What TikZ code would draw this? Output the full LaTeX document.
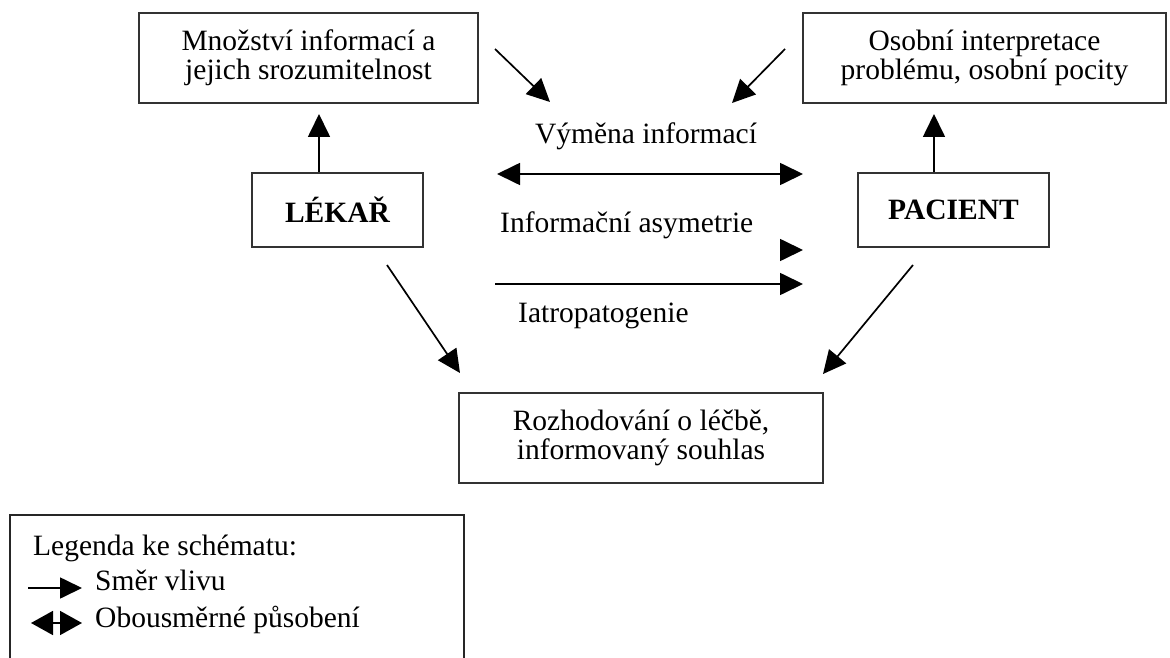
\documentclass[tikz,border=0pt]{standalone}
\usepackage{fontspec}
\setmainfont{Liberation Serif}
\usetikzlibrary{arrows.meta}
\tikzset{
  txt/.style={font=\fontsize{29.5}{28.5}\selectfont, inner sep=0pt},
  boxnode/.style={draw=black!80, line width=1.8pt, txt, align=center, inner sep=0pt},
  arr/.style={line width=1.7pt, -{Triangle[length=23pt,width=22pt]}},
  darr/.style={line width=1.7pt, {Triangle[length=23pt,width=22pt]}-{Triangle[length=23pt,width=22pt]}},
}
\begin{document}
\begin{tikzpicture}[x=1pt,y=-1pt]
\useasboundingbox (0,0) rectangle (1170,658);
% boxes
\node[boxnode, minimum width=339pt, minimum height=90pt] (mnoz) at (308.5,58) {Množství informací a\\jejich srozumitelnost};
\node[boxnode, minimum width=363pt, minimum height=90pt] (osob) at (984.5,58) {Osobní interpretace\\problému, osobní pocity};
\node[boxnode, minimum width=171pt, minimum height=74pt, font=\fontsize{29.5}{28.5}\selectfont\bfseries] (lekar) at (337.5,210) {LÉKAŘ};
\node[boxnode, minimum width=191pt, minimum height=74pt, font=\fontsize{29.5}{28.5}\selectfont\bfseries] (pacient) at (953.5,210) {PACIENT};
\node[boxnode, minimum width=364pt, minimum height=90pt] (rozh) at (641,438) {Rozhodování o léčbě,\\informovaný souhlas};
% coordinates
\coordinate (lt) at (319,114);
\coordinate (pt) at (934,114);
\coordinate (d1s) at (495,49);
\coordinate (d1e) at (550,102);
\coordinate (d2s) at (785,49);
\coordinate (d2e) at (732,103);
\coordinate (vl) at (497,174);
\coordinate (vr) at (803,174);
\coordinate (as) at (781,250);
\coordinate (ae) at (803,250);
\coordinate (is) at (495,284);
\coordinate (ie) at (803,284);
\coordinate (l1s) at (387,265);
\coordinate (l1e) at (460,373);
\coordinate (l2s) at (913,265);
\coordinate (l2e) at (823,374);
% arrows
\draw[arr] (lekar.north -| lt) -- (lt);
\draw[arr] (pacient.north -| pt) -- (pt);
\draw[arr] (d1s) -- (d1e);
\draw[arr] (d2s) -- (d2e);
\draw[darr] (vl) -- (vr);
\draw[arr] (as) -- (ae);
\draw[arr] (is) -- (ie);
\draw[arr] (l1s) -- (l1e);
\draw[arr] (l2s) -- (l2e);
% labels
\node[txt, anchor=base] (vym) at (646,143) {Výměna informací};
\node[txt, anchor=base west] (asym) at (500,232) {Informační asymetrie};
\node[txt, anchor=base west] (iatro) at (518,322) {Iatropatogenie};
% legend
\draw[draw=black!85, line width=1.7pt] (10,658) -- (10,515) -- (464,515) -- (464,658);
\node[txt, anchor=base west] (leg) at (33,555) {Legenda ke schématu:};
\node[txt, anchor=base west] (smer) at (95,590) {Směr vlivu};
\node[txt, anchor=base west] (obou) at (95,627) {Obousměrné působení};
\coordinate (la1) at (28,588);
\coordinate (la2) at (82,588);
\coordinate (lb1) at (31,623);
\coordinate (lb2) at (82,623);
\draw[line width=1.7pt, -{Triangle[length=22pt,width=21pt]}] (la1) -- (la2);
\draw[line width=1.7pt, {Triangle[length=22pt,width=24pt]}-{Triangle[length=22pt,width=24pt]}] (lb1) -- (lb2);
\end{tikzpicture}
\end{document}
